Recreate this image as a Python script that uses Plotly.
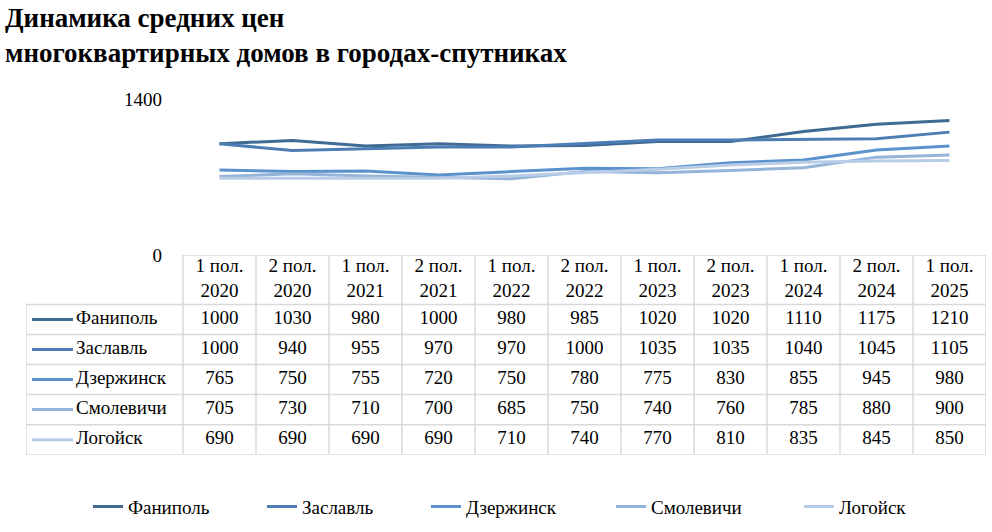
import plotly.graph_objects as go

W, H = 992, 532

periods = ["1 пол.<br>2020", "2 пол.<br>2020", "1 пол.<br>2021", "2 пол.<br>2021",
           "1 пол.<br>2022", "2 пол.<br>2022", "1 пол.<br>2023", "2 пол.<br>2023",
           "1 пол.<br>2024", "2 пол.<br>2024", "1 пол.<br>2025"]

cities = ["Фаниполь", "Заславль", "Дзержинск", "Смолевичи", "Логойск"]

fanipol = [1000, 1030, 980, 1000, 980, 985, 1020, 1020, 1110, 1175, 1210]
zaslavl = [1000, 940, 955, 970, 970, 1000, 1035, 1035, 1040, 1045, 1105]
dzerzhinsk = [765, 750, 755, 720, 750, 780, 775, 830, 855, 945, 980]
smolevichi = [705, 730, 710, 700, 685, 750, 740, 760, 785, 880, 900]
logoysk = [690, 690, 690, 690, 710, 740, 770, 810, 835, 845, 850]

series = [fanipol, zaslavl, dzerzhinsk, smolevichi, logoysk]
colors = ["#3F6A93", "#4C7EB5", "#5B92CC", "#95B4DA", "#B9CCE7"]

y_ticks = [0, 1400]

FONT = "Liberation Serif, Times New Roman, serif"
GRID = "#D9D9D9"

def px(x):
    return x / W

def py(y):
    return 1 - y / H

T_LEFT, T_LABEL_RIGHT, T_RIGHT = 26, 183, 986
T_TOP, T_HEAD_BOTTOM, T_BOTTOM = 255, 306.5, 463
n_cat = len(periods)
n_row = len(cities)
col_w = (T_RIGHT - T_LABEL_RIGHT) / n_cat
row_h = (T_BOTTOM - T_HEAD_BOTTOM) / n_row
label_units = (T_LABEL_RIGHT - T_LEFT) / col_w
head_units = (T_HEAD_BOTTOM - T_TOP) / row_h

x2_lo = -0.5 - label_units
x2_hi = n_cat - 0.5
y2_top = -0.5 - head_units
y2_bot = n_row - 0.5

def x2_from_px(p):
    return -0.5 - (T_LABEL_RIGHT - p) / col_w

def tfont(size=19):
    return dict(family=FONT, size=size, color="#000000")

fig = go.Figure()

legend_text_x = [128, 302, 466, 651, 839]
cats = list(range(n_cat))
for i, (name, vals, col) in enumerate(zip(cities, series, colors)):
    fig.add_trace(go.Scatter(
        x=cats, y=vals, mode="lines", name=name,
        line=dict(color=col, width=3), legend="legend" if i == 0 else f"legend{i + 1}",
        xaxis="x", yaxis="y", hoverinfo="skip"))

for r, vals in enumerate(series):
    fig.add_trace(go.Scatter(
        x=cats, y=[r] * n_cat, mode="text", text=[str(v) for v in vals],
        textfont=tfont(), textposition="middle center", showlegend=False,
        xaxis="x2", yaxis="y2", hoverinfo="skip"))

fig.add_trace(go.Scatter(
    x=[x2_from_px(76)] * n_row, y=list(range(n_row)), mode="text", text=cities,
    textfont=tfont(), textposition="middle right", showlegend=False,
    xaxis="x2", yaxis="y2", hoverinfo="skip"))

fig.add_trace(go.Scatter(
    x=cats, y=[(y2_top - 0.5) / 2] * n_cat, mode="text", text=periods,
    textfont=tfont(), textposition="middle center", showlegend=False,
    xaxis="x2", yaxis="y2", hoverinfo="skip"))

shapes = []
ln = dict(color=GRID, width=1.5)
shapes.append(dict(type="line", xref="x2", yref="y2", x0=-0.5, x1=x2_hi, y0=y2_top, y1=y2_top, line=ln))
for r in range(n_row + 1):
    yy = r - 0.5
    shapes.append(dict(type="line", xref="x2", yref="y2", x0=x2_lo, x1=x2_hi, y0=yy, y1=yy, line=ln))
shapes.append(dict(type="line", xref="x2", yref="y2", x0=x2_lo, x1=x2_lo, y0=-0.5, y1=y2_bot, line=ln))
for c in range(n_cat + 1):
    xx = c - 0.5
    shapes.append(dict(type="line", xref="x2", yref="y2", x0=xx, x1=xx, y0=y2_top, y1=y2_bot, line=ln))
for r, col in enumerate(colors):
    shapes.append(dict(type="line", xref="x2", yref="y2", x0=x2_from_px(32), x1=x2_from_px(73),
                       y0=r, y1=r, line=dict(color=col, width=3)))

legends = {}
for i, tx in enumerate(legend_text_x):
    key = "legend" if i == 0 else f"legend{i + 1}"
    legends[key] = dict(orientation="h", x=px(tx - 40), xanchor="left", y=py(517), yanchor="middle",
                        font=tfont(), itemwidth=30, bgcolor="rgba(0,0,0,0)")

fig.update_layout(
    width=W, height=H, autosize=False,
    margin=dict(l=0, r=0, t=0, b=0),
    paper_bgcolor="white", plot_bgcolor="rgba(0,0,0,0)",
    font=dict(family=FONT, color="#000000"),
    shapes=shapes,
    showlegend=True,
    xaxis=dict(domain=[px(T_LABEL_RIGHT), px(T_RIGHT)], range=[-0.5, n_cat - 0.5],
               showticklabels=False, showgrid=False, zeroline=False, showline=False, fixedrange=True),
    yaxis=dict(domain=[py(T_TOP), py(93)], range=[0, 1400], tickvals=y_ticks,
               showgrid=True, gridcolor=GRID, gridwidth=1.5, zeroline=False, showline=False,
               tickfont=tfont(), ticks="", ticklabelstandoff=20),
    xaxis2=dict(domain=[px(T_LEFT), px(T_RIGHT)], range=[x2_lo, x2_hi], anchor="y2",
                visible=False, fixedrange=True),
    yaxis2=dict(domain=[py(T_BOTTOM), py(T_TOP)], range=[y2_bot, y2_top], anchor="x2",
                visible=False, fixedrange=True),
    annotations=[dict(text="<b>Динамика средних цен<br>многоквартирных домов в городах-спутниках</b>",
                      xref="paper", yref="paper", x=px(3), y=1.0, xanchor="left", yanchor="top",
                      yshift=9, align="left", showarrow=False, font=tfont(27))],
    **legends,
)

post = ("document.body.style.margin='0';document.body.style.padding='0';"
        "document.documentElement.style.overflow='hidden';")
fig.write_html("out.html", config={"responsive": False, "displayModeBar": False}, post_script=post)
